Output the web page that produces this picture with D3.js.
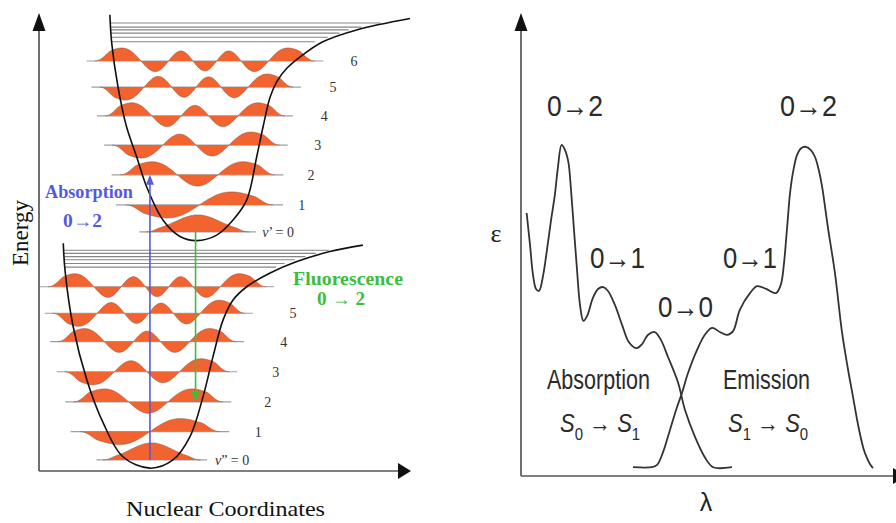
<!DOCTYPE html>
<html>
<head>
<meta charset="utf-8">
<script src="https://cdn.jsdelivr.net/npm/d3@7"></script>
<style>
  body { margin: 0; background: #fff; }
  svg { display: block; }
</style>
</head>
<body>
<script>
// - - - - - - LEFT PANEL DATA (nuclear coordinate r, energy E, arbitrary units 0-10)
var groundR  = [0.655, 0.70, 0.92, 1.29, 1.73, 2.26, 2.99, 3.61, 4.07, 4.42, 4.69, 4.96, 5.23, 5.60, 6.23, 6.95, 7.84, 8.73];
var groundE  = [4.96, 4.38, 3.14, 1.97, 1.03, 0.29, 0.04, 0.22, 0.73, 1.60, 2.48, 3.28, 3.72, 4.01, 4.31, 4.56, 4.78, 4.92];
var excitedR = [1.91, 1.96, 2.13, 2.36, 2.63, 2.90, 3.34, 3.80, 4.25, 4.79, 5.23, 5.60, 5.87, 6.04, 6.23, 6.41, 6.68, 7.04, 7.65, 8.56, 10.0];
var excitedE = [9.96, 9.34, 8.38, 7.51, 6.86, 6.20, 5.47, 5.11, 5.02, 5.14, 5.47, 5.91, 6.86, 7.51, 8.16, 8.50, 8.79, 9.04, 9.37, 9.63, 9.88];

var groundLevels  = [0.22, 0.84, 1.49, 2.15, 2.81, 3.43, 4.01];
var excitedLevels = [5.21, 5.80, 6.46, 7.11, 7.75, 8.38, 8.95];
var groundContinuum  = [4.81, 4.74, 4.67, 4.60, 4.52, 4.44];
var excitedContinuum = [9.78, 9.69, 9.63, 9.56, 9.47, 9.37];

var groundLabels  = ["\u201D = 0", "1", "2", "3", "4", "5", ""];
var excitedLabels = ["\u2019 = 0", "1", "2", "3", "4", "5", "6"];

// vertical transitions: nuclear coordinate of each arrow
var absorptionR = 2.99;   // ground v"=0 -> excited v'=2
var fluorescenceR = 4.22; // excited v'=0 -> ground v"=2

// - - - - - - RIGHT PANEL DATA (wavelength, epsilon, arbitrary units 0-100)
var absWl  = [1.5, 2.4, 3.2, 4.0, 4.8, 5.9, 6.9, 8.0, 9.0, 9.8, 10.8, 11.7, 12.6, 13.3, 14.1, 14.9, 15.7, 16.6, 17.6, 19.1, 20.5, 21.9, 23.1, 25.0, 26.9, 28.7, 30.8, 32.2, 33.8, 35.6, 37.2, 39.1, 41.8, 43.6, 46.3, 49.0, 51.1, 56.1];
var absEps = [56.8, 49.9, 43.4, 40.4, 40.0, 43.4, 48.8, 55.3, 60.7, 66.5, 71.5, 70.4, 67.8, 61.8, 53.1, 44.5, 36.9, 33.5, 34.6, 38.4, 40.4, 40.8, 40.0, 36.9, 32.6, 28.9, 27.6, 28.5, 30.5, 31.1, 29.4, 25.7, 20.1, 14.3, 8.4, 3.9, 1.9, 1.9];
var emWl  = [29.8, 34.8, 36.2, 37.8, 39.6, 41.5, 42.8, 44.4, 46.8, 48.9, 50.8, 52.9, 54.8, 56.4, 58.2, 60.9, 62.8, 65.2, 67.8, 69.1, 69.9, 70.5, 71.0, 71.5, 72.3, 73.4, 74.5, 75.8, 77.1, 78.2, 79.3, 80.1, 81.6, 83.5, 85.4, 87.0, 88.3, 89.4, 90.2, 91.2, 92.0, 92.8, 93.6];
var emEps = [1.9, 1.9, 2.4, 5.2, 9.9, 14.9, 17.9, 22.2, 27.2, 30.5, 32.0, 31.1, 30.5, 31.3, 35.9, 39.5, 41.0, 40.4, 39.5, 41.3, 45.6, 51.0, 55.9, 60.7, 65.4, 69.3, 70.8, 71.1, 70.4, 68.9, 65.7, 62.4, 53.8, 43.8, 30.9, 22.9, 17.1, 12.1, 8.9, 5.6, 3.9, 2.6, 1.7];

var peakLabels = ["0\u21922", "0\u21921", "0\u21920", "0\u21921", "0\u21922"];

// - - - - - - SETUP
var svg = d3.select("body").append("svg").attr("width", 896).attr("height", 523);

var xN = d3.scaleLinear().domain([0, 10]).range([39, 410]);
var yE = d3.scaleLinear().domain([0, 10]).range([470, 13]);
var xW = d3.scaleLinear().domain([0, 100]).range([521, 897]);
var yW = d3.scaleLinear().domain([0, 100]).range([476, 13]);

var ORANGE = "#f26330";
var BLUE = "#5658e0";
var GREEN = "#3dbd3d";

// - - - - - - HELPERS
function zipPts(a, b) { return a.map(function(v, i) { return [v, b[i]]; }); }

// turning points of a level on a potential curve (linear between data points)
function crossings(rs, es, e) {
  var iMin = d3.minIndex(es), left = null, right = null;
  for (var i = 0; i < iMin; i++) {
    if ((es[i] - e) * (es[i + 1] - e) <= 0) {
      left = rs[i] + (e - es[i]) / (es[i + 1] - es[i]) * (rs[i + 1] - rs[i]);
      break;
    }
  }
  for (var j = iMin; j < es.length - 1; j++) {
    if ((es[j] - e) * (es[j + 1] - e) <= 0) {
      right = rs[j] + (e - es[j]) / (es[j + 1] - es[j]) * (rs[j + 1] - rs[j]);
      break;
    }
  }
  return [left, right];
}

function hermite(n, x) {
  if (n === 0) return 1;
  var h0 = 1, h1 = 2 * x;
  for (var k = 1; k < n; k++) {
    var h2 = 2 * x * h1 - 2 * k * h0;
    h0 = h1; h1 = h2;
  }
  return h1;
}
function psi(n, x) { return hermite(n, x) * Math.exp(-x * x / 2); }

function psiStats(n) {
  var xs = d3.range(0, 7, 0.002), vals = xs.map(function(x) { return Math.abs(psi(n, x)); });
  var outer = 0;
  for (var i = 1; i < vals.length - 1; i++) {
    if (vals[i] >= vals[i - 1] && vals[i] > vals[i + 1]) outer = xs[i];
  }
  return { max: d3.max(vals), outer: outer };
}

var potLine = d3.line()
  .x(function(d) { return xN(d[0]); })
  .y(function(d) { return yE(d[1]); })
  .curve(d3.curveCatmullRom.alpha(0.5));

function drawWell(g, rs, es, levels, labels, labelGap, continuum) {
  var gw = g.append("g");

  levels.forEach(function(E, n) {
    var tp = crossings(rs, es, E);
    var c = (tp[0] + tp[1]) / 2, half = (tp[1] - tp[0]) / 2;
    var st = psiStats(n);
    var s = half / ((Math.max(1, st.outer) + Math.sqrt(2 * n + 1)) / 2);
    var R = Math.max(2.3, Math.sqrt(2 * n + 1) + 0.45);
    var amp = n === 0 ? 17 : 13;
    var y0 = yE(E);

    var pts = d3.range(-R, R + 1e-9, R / 160).map(function(xi) {
      var d = R - Math.abs(xi), u = Math.min(1, d / 0.6);
      var taper = u * u * (3 - 2 * u);
      return [xN(c + xi * s), y0 - amp * taper * psi(n, xi) / st.max];
    });

    gw.append("line")
      .attr("x1", xN(c - (R + 0.3) * s)).attr("x2", xN(c + (R + 0.3) * s))
      .attr("y1", y0).attr("y2", y0)
      .attr("stroke", "#a0a0a0").attr("stroke-width", 1.2);

    gw.append("path").datum(pts)
      .attr("d", d3.area().x(function(d) { return d[0]; }).y0(y0).y1(function(d) { return d[1]; }))
      .attr("fill", ORANGE);

    gw.append("path").datum(pts)
      .attr("d", d3.line().x(function(d) { return d[0]; }).y(function(d) { return d[1]; }))
      .attr("fill", "none").attr("stroke", "#8a5a48").attr("stroke-width", 0.6);

    if (labels[n]) {
      var t = gw.append("text")
        .attr("x", xN(tp[1]) + (n === 0 ? 42 : labelGap))
        .attr("y", y0 + 5)
        .attr("font-family", "Liberation Serif, serif")
        .attr("font-size", 14)
        .attr("fill", "#333");
      if (n === 0) {
        t.append("tspan").attr("font-style", "italic").text("v");
        t.append("tspan").text(labels[n]);
      } else {
        t.text(labels[n]);
      }
    }
  });

  // continuum lines just below the dissociation limit
  continuum.forEach(function(E) {
    var tp = crossings(rs, es, E);
    g.append("line")
      .attr("x1", xN(tp[0])).attr("x2", xN(tp[1]) - 8)
      .attr("y1", yE(E)).attr("y2", yE(E))
      .attr("stroke", "#858585").attr("stroke-width", 1.1);
  });

  g.append("path").datum(zipPts(rs, es))
    .attr("d", potLine)
    .attr("fill", "none").attr("stroke", "#111").attr("stroke-width", 1.6);
}

// - - - - - - LEFT PANEL
var left = svg.append("g");

drawWell(left, groundR, groundE, groundLevels, groundLabels, 63, groundContinuum);
drawWell(left, excitedR, excitedE, excitedLevels, excitedLabels, 55, excitedContinuum);

// absorption arrow (up) and fluorescence arrow (down)
function vArrow(g, r, eFrom, eTo, color) {
  var x = xN(r), yA = yE(eFrom), yB = yE(eTo), dir = yB < yA ? 1 : -1;
  g.append("line").attr("x1", x).attr("x2", x).attr("y1", yA).attr("y2", yB + dir * 8)
    .attr("stroke", color).attr("stroke-width", 1.6);
  g.append("path")
    .attr("d", "M" + x + "," + yB + "L" + (x - 4) + "," + (yB + dir * 10) + "L" + (x + 4) + "," + (yB + dir * 10) + "Z")
    .attr("fill", color);
}
vArrow(left, absorptionR, groundLevels[0], excitedLevels[2], BLUE);
vArrow(left, fluorescenceR, excitedLevels[0], groundLevels[2], GREEN);

// axes
function axisPair(g, x0, y0, xEnd, yEnd) {
  g.append("line").attr("x1", x0).attr("x2", x0).attr("y1", y0).attr("y2", yEnd + 14)
    .attr("stroke", "#555").attr("stroke-width", 1.7);
  g.append("line").attr("x1", x0).attr("x2", xEnd - 10).attr("y1", y0).attr("y2", y0)
    .attr("stroke", "#555").attr("stroke-width", 1.7);
  g.append("path").attr("d", "M" + x0 + "," + yEnd + "L" + (x0 - 6.5) + "," + (yEnd + 18) + "L" + (x0 + 6.5) + "," + (yEnd + 18) + "Z")
    .attr("fill", "#111");
  g.append("path").attr("d", "M" + xEnd + "," + y0 + "L" + (xEnd - 13) + "," + (y0 - 8) + "L" + (xEnd - 13) + "," + (y0 + 8) + "Z")
    .attr("fill", "#111");
}
axisPair(left, xN(0), 471, 411, 13);

left.append("text")
  .attr("transform", "translate(28,233) rotate(-90)")
  .attr("text-anchor", "middle")
  .attr("font-family", "Liberation Serif, serif")
  .attr("font-size", 23).attr("fill", "#111")
  .text("Energy");

left.append("text")
  .attr("x", 225.5).attr("y", 516)
  .attr("text-anchor", "middle")
  .attr("font-family", "Liberation Serif, serif")
  .attr("font-size", 22).attr("fill", "#111")
  .attr("textLength", 199).attr("lengthAdjust", "spacingAndGlyphs")
  .text("Nuclear Coordinates");

function boldNote(g, x, y, txt, color, len) {
  g.append("text").attr("x", x).attr("y", y)
    .attr("text-anchor", "middle")
    .attr("font-family", "Liberation Serif, serif")
    .attr("font-weight", "bold").attr("font-size", 18)
    .attr("textLength", len).attr("lengthAdjust", "spacingAndGlyphs")
    .attr("fill", color).text(txt);
}
boldNote(left, 89, 198, "Absorption", BLUE, 88);
boldNote(left, 82.5, 227, "0\u21922", BLUE, 39);
boldNote(left, 348, 285, "Fluorescence", GREEN, 110);
boldNote(left, 341, 305, "0 \u2192 2", GREEN, 48);

// - - - - - - RIGHT PANEL
var right = svg.append("g");
axisPair(right, xW(0), 476, 906, 13);

var specLine = d3.line()
  .x(function(d) { return xW(d[0]); })
  .y(function(d) { return yW(d[1]); })
  .curve(d3.curveCatmullRom.alpha(0.5));

right.append("path").datum(zipPts(absWl, absEps))
  .attr("d", specLine).attr("fill", "none")
  .attr("stroke", "#333").attr("stroke-width", 1.8);
right.append("path").datum(zipPts(emWl, emEps))
  .attr("d", specLine).attr("fill", "none")
  .attr("stroke", "#333").attr("stroke-width", 1.8);

function narrow(g, x, y, txt, size, len) {
  g.append("text").attr("x", x).attr("y", y)
    .attr("font-family", "Liberation Sans, Arial, sans-serif")
    .attr("font-size", size)
    .attr("textLength", len).attr("lengthAdjust", "spacingAndGlyphs")
    .attr("fill", "#2a2a2a").text(txt);
}
var peakPos = [[547, 116, 56], [590, 268, 55], [658, 317, 55], [723, 268, 54], [780, 116, 57]];
peakLabels.forEach(function(t, i) {
  narrow(right, peakPos[i][0], peakPos[i][1], t, 30, peakPos[i][2]);
});
narrow(right, 547, 389, "Absorption", 27, 103);
narrow(right, 723, 389, "Emission", 27, 87);

function transition(g, x, y, a, b) {
  var t = g.append("text").attr("transform", "translate(" + x + "," + y + ") scale(0.88,1)")
    .attr("font-family", "Liberation Sans, Arial, sans-serif")
    .attr("font-size", 25).attr("fill", "#2a2a2a");
  t.append("tspan").attr("font-style", "italic").text("S");
  t.append("tspan").attr("font-size", 17).attr("dy", 8).text(a);
  t.append("tspan").attr("dy", -8).text(" \u2192 ");
  t.append("tspan").attr("font-style", "italic").text("S");
  t.append("tspan").attr("font-size", 17).attr("dy", 8).text(b);
}
transition(right, 560, 432, "0", "1");
transition(right, 728, 432, "1", "0");

right.append("text").attr("x", 496).attr("y", 242)
  .attr("text-anchor", "middle")
  .attr("font-family", "Liberation Serif, serif")
  .attr("font-size", 26).attr("fill", "#222").text("\u03B5");
right.append("text").attr("x", 706).attr("y", 511)
  .attr("text-anchor", "middle")
  .attr("font-family", "Liberation Sans, Arial, sans-serif")
  .attr("font-size", 25).attr("fill", "#222").text("\u03BB");
</script>
</body>
</html>
